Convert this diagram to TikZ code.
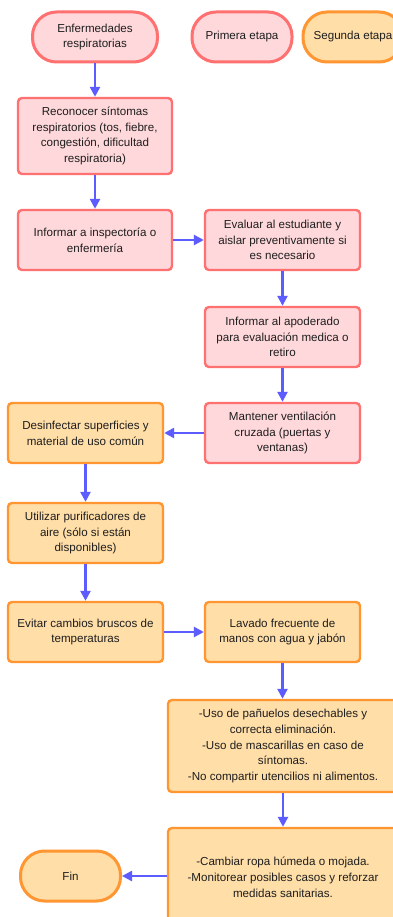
\documentclass[tikz,border=0pt]{standalone}
\usepackage{fontspec}
\setmainfont{Liberation Sans}
\usetikzlibrary{arrows.meta}
\definecolor{pinkfill}{RGB}{255,216,219}
\definecolor{pinkline}{RGB}{255,112,112}
\definecolor{orfill}{RGB}{255,222,168}
\definecolor{orline}{RGB}{255,150,50}
\definecolor{arrowc}{RGB}{92,92,255}
\definecolor{txt}{RGB}{30,30,30}
\tikzset{
  base/.style={line width=2.4pt, align=center, inner sep=0pt, text=txt,
    font=\fontsize{11.6}{15.8}\selectfont},
  pinkbox/.style={base, draw=pinkline, fill=pinkfill, rounded corners=4pt},
  orbox/.style={base, draw=orline, fill=orfill, rounded corners=4pt},
  pinkterm/.style={base, draw=pinkline, fill=pinkfill, rounded corners=24pt, line width=3pt},
  orterm/.style={base, draw=orline, fill=orfill, rounded corners=24pt, line width=3pt},
  conn/.style={draw=arrowc, line width=2.4pt, -{Triangle[length=10pt,width=10pt]}},
}
\begin{document}
\begin{tikzpicture}[x=1pt,y=-1pt]
\useasboundingbox (0,0) rectangle (393,917);
\clip (0,0) rectangle (393,917);
\fill[white] (0,0) rectangle (393,917);

\node[pinkterm, minimum width=125pt, minimum height=50pt] (start) at (95,37) {Enfermedades\\respiratorias};
\node[pinkterm, minimum width=100pt, minimum height=50pt] (leg1) at (242,37) {Primera etapa};
\node[orterm, minimum width=100pt, minimum height=50pt] (leg2) at (353,37) {Segunda etapa};

\node[pinkbox, minimum width=154pt, minimum height=76pt] (b2) at (95,136) {Reconocer síntomas\\respiratorios (tos, fiebre,\\congestión, dificultad\\respiratoria)};
\node[pinkbox, minimum width=154pt, minimum height=60pt] (b3) at (95,240) {Informar a inspectoría o\\enfermería};
\node[pinkbox, minimum width=155pt, minimum height=60pt] (b4) at (282.5,240) {Evaluar al estudiante y\\aislar preventivamente si\\es necesario};
\node[pinkbox, minimum width=155pt, minimum height=60pt] (b5) at (282.5,337) {Informar al apoderado\\para evaluación medica o\\retiro};
\node[pinkbox, minimum width=155pt, minimum height=60pt] (b6) at (282.5,433) {Mantener ventilación\\cruzada (puertas y\\ventanas)};
\node[orbox, minimum width=155pt, minimum height=60pt] (b7) at (85.5,433) {Desinfectar superficies y\\material de uso común};
\node[orbox, minimum width=155pt, minimum height=60pt] (b8) at (85.5,533) {Utilizar purificadores de\\aire (sólo si están\\disponibles)};
\node[orbox, minimum width=155pt, minimum height=60pt] (b9) at (85.5,632) {Evitar cambios bruscos de\\temperaturas};
\node[orbox, minimum width=155pt, minimum height=60pt] (b10) at (282.5,632) {Lavado frecuente de\\manos con agua y jabón};
\node[orbox, minimum width=230pt, minimum height=92pt] (b11) at (283,746) {-Uso de pañuelos desechables y\\correcta eliminación.\\-Uso de mascarillas en caso de\\síntomas.\\-No compartir utencilios ni alimentos.};
\node[orbox, minimum width=230pt, minimum height=98pt] (b12) at (283,877) {-Cambiar ropa húmeda o mojada.\\-Monitorear posibles casos y reforzar\\medidas sanitarias.};
\node[orterm, minimum width=100pt, minimum height=50pt] (fin) at (70.5,876) {Fin};

\draw[conn] (start.south) -- (b2.north);
\draw[conn] (b2.south) -- (b3.north);
\draw[conn] (b3.east) -- (b4.west);
\draw[conn] (b4.south) -- (b5.north);
\draw[conn] (b5.south) -- (b6.north);
\draw[conn] (b6.west) -- (b7.east);
\draw[conn] (b7.south) -- (b8.north);
\draw[conn] (b8.south) -- (b9.north);
\draw[conn] (b9.east) -- (b10.west);
\draw[conn] (b10.south) -- (b10.south |- b11.north);
\draw[conn] (b11.south) -- (b12.north);
\draw[conn] (b12.west |- fin.east) -- (fin.east);
\end{tikzpicture}
\end{document}
